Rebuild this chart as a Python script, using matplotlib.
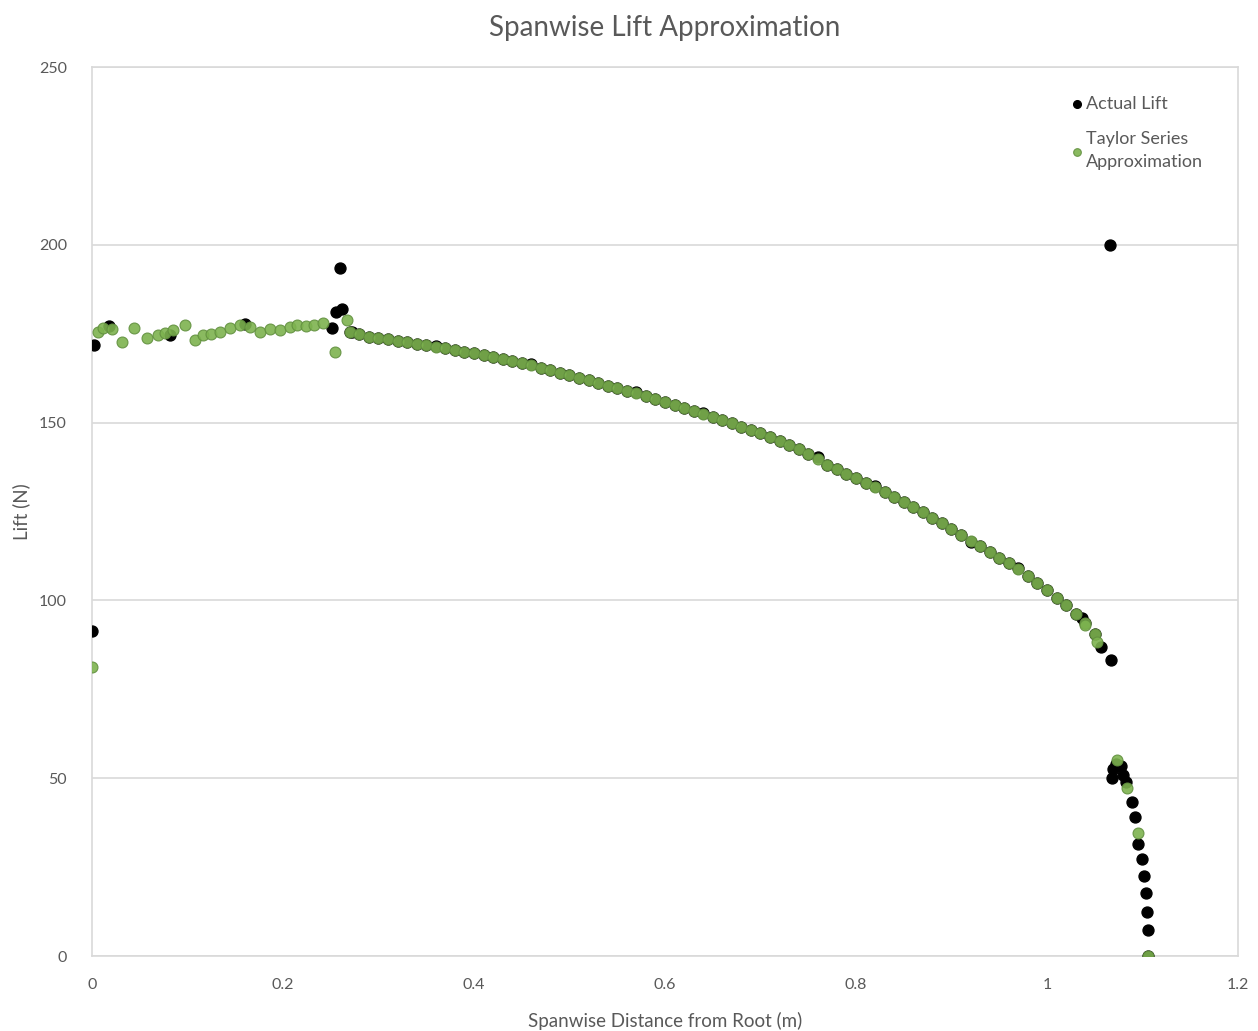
import numpy as np
import matplotlib
matplotlib.use("Agg")
import matplotlib.pyplot as plt

plt.rcParams["font.family"] = ["Lato", "DejaVu Sans"]

GREEN = "#7db34f"
GREEN_EDGE = "#62903f"
GRAY = "#595959"

# ── Data ────────────────────────────────────────────────────
# Taylor series approximation: root region
taylor_root_x = [0.0, 0.006, 0.012, 0.021, 0.031, 0.044, 0.058, 0.069, 0.076, 0.085,
                 0.097, 0.108, 0.116, 0.125, 0.134, 0.145, 0.155, 0.165, 0.176, 0.186,
                 0.197, 0.207, 0.215, 0.224, 0.232, 0.242, 0.254, 0.267]
taylor_root_y = [81.3, 175.5, 176.5, 176.2, 172.7, 176.6, 173.8, 174.6, 175.2, 176.0,
                 177.4, 173.2, 174.6, 175.0, 175.5, 176.6, 177.4, 176.8, 175.5, 176.2,
                 176.0, 176.8, 177.4, 177.2, 177.4, 178.0, 169.9, 178.8]

# main curve (shared spanwise stations)
curve_x = [0.27, 0.28, 0.29, 0.30, 0.31, 0.32, 0.33, 0.34, 0.35, 0.36,
           0.37, 0.38, 0.39, 0.40, 0.41, 0.42, 0.43, 0.44, 0.45, 0.46,
           0.47, 0.48, 0.49, 0.50, 0.51, 0.52, 0.53, 0.54, 0.55, 0.56,
           0.57, 0.58, 0.59, 0.60, 0.61, 0.62, 0.63, 0.64, 0.65, 0.66,
           0.67, 0.68, 0.69, 0.70, 0.71, 0.72, 0.73, 0.74, 0.75, 0.76,
           0.77, 0.78, 0.79, 0.80, 0.81, 0.82, 0.83, 0.84, 0.85, 0.86,
           0.87, 0.88, 0.89, 0.90, 0.91, 0.92, 0.93, 0.94, 0.95, 0.96,
           0.97, 0.98, 0.99, 1.00, 1.01, 1.02, 1.03, 1.04, 1.05]
taylor_curve_y = [175.5, 174.8, 174.2, 173.8, 173.4, 173.0, 172.6, 172.2, 171.8, 171.4,
                  171.0, 170.5, 170.0, 169.5, 169.0, 168.5, 167.9, 167.3, 166.7, 166.1,
                  165.4, 164.7, 164.0, 163.3, 162.6, 161.9, 161.2, 160.4, 159.7, 158.9,
                  158.2, 157.4, 156.6, 155.8, 155.0, 154.2, 153.3, 152.5, 151.6, 150.7,
                  149.8, 148.9, 148.0, 147.0, 145.9, 144.8, 143.7, 142.5, 141.2, 139.8,
                  138.2, 136.9, 135.6, 134.4, 133.1, 131.8, 130.5, 129.1, 127.7, 126.3,
                  124.8, 123.3, 121.8, 120.2, 118.5, 116.8, 115.2, 113.6, 112.0, 110.4,
                  108.7, 106.8, 104.9, 102.9, 100.8, 98.6, 96.2, 93.6, 90.6]
actual_curve_y = [175.5, 174.8, 174.2, 173.8, 173.4, 173.0, 172.6, 172.2, 171.8, 171.6,
                  171.0, 170.5, 170.0, 169.5, 169.0, 168.5, 167.9, 167.3, 166.7, 166.4,
                  165.4, 164.7, 164.0, 163.3, 162.6, 161.9, 161.2, 160.4, 159.7, 158.9,
                  158.5, 157.4, 156.6, 155.8, 155.0, 154.2, 153.3, 152.8, 151.6, 150.7,
                  149.8, 148.9, 148.0, 147.0, 145.9, 144.8, 143.7, 142.5, 141.2, 140.2,
                  138.2, 136.9, 135.6, 134.4, 133.1, 132.2, 130.5, 129.1, 127.7, 126.3,
                  124.8, 123.3, 121.8, 120.2, 118.5, 116.4, 115.2, 113.6, 112.0, 110.4,
                  109.1, 106.8, 104.9, 102.9, 100.8, 98.6, 96.2, 93.6, 90.6]

# tip region
taylor_tip_x = [1.040, 1.052, 1.073, 1.084, 1.095, 1.106]
taylor_tip_y = [93.0, 88.3, 55.1, 47.2, 34.6, 0.0]

actual_root_x = [0.0, 0.002, 0.018, 0.082, 0.160, 0.251, 0.256, 0.260, 0.262, 0.272]
actual_root_y = [91.5, 171.8, 177.2, 174.6, 177.7, 176.6, 181.0, 193.5, 182.0, 175.5]

actual_tip_x = [1.037, 1.057, 1.066, 1.067, 1.068, 1.069, 1.072, 1.078, 1.080, 1.083,
                1.089, 1.092, 1.095, 1.100, 1.102, 1.104, 1.105, 1.106, 1.106]
actual_tip_y = [95.0, 87.0, 200.0, 83.2, 50.0, 52.5, 54.0, 53.5, 51.0, 49.0,
                43.3, 39.0, 31.5, 27.3, 22.5, 17.7, 12.4, 7.3, 0.0]

actual_x = actual_root_x + curve_x + actual_tip_x
actual_y = actual_root_y + actual_curve_y + actual_tip_y
taylor_x = taylor_root_x + curve_x + taylor_tip_x
taylor_y = taylor_root_y + taylor_curve_y + taylor_tip_y

# ── Figure ──────────────────────────────────────────────────
fig = plt.figure(figsize=(12.58, 10.31), dpi=100)
ax = fig.add_axes([0.0731, 0.0727, 0.911, 0.8623])

ax.scatter(actual_x, actual_y, s=62, color="black", zorder=3, label="Actual Lift")
ax.scatter(taylor_x, taylor_y, s=62, color=GREEN, edgecolor=GREEN_EDGE,
           linewidth=0.8, alpha=0.9, zorder=4,
           label="Taylor Series\nApproximation")

ax.set_xlim(0, 1.2)
ax.set_ylim(0, 250)
ax.set_xticks(np.arange(0, 1.21, 0.2))
ax.set_xticklabels(["0", "0.2", "0.4", "0.6", "0.8", "1", "1.2"])
ax.set_yticks(range(0, 251, 50))
ax.tick_params(colors=GRAY, labelsize=11.5, length=0)
ax.tick_params(axis="x", pad=16)
ax.tick_params(axis="y", pad=18)

ax.grid(True, axis="y", color="#d9d9d9", linewidth=1.2)
ax.set_axisbelow(True)
for sp in ax.spines.values():
    sp.set_color("#d9d9d9")
    sp.set_linewidth(1.2)

ax.set_title("Spanwise Lift Approximation", fontsize=20, color=GRAY, pad=22)
ax.set_xlabel("Spanwise Distance from Root (m)", fontsize=13.5, color=GRAY, labelpad=14)
ax.set_ylabel("Lift (N)", fontsize=13.5, color=GRAY, labelpad=6)

leg = ax.legend(loc="upper right", bbox_to_anchor=(0.977, 0.978), frameon=False,
                borderpad=0, fontsize=13, labelcolor=GRAY, handletextpad=0.0,
                handlelength=1.0, labelspacing=1.1, markerscale=0.7)
for t in leg.get_texts():
    t.set_linespacing(1.5)

plt.savefig("out.png", dpi=100)
plt.close()
